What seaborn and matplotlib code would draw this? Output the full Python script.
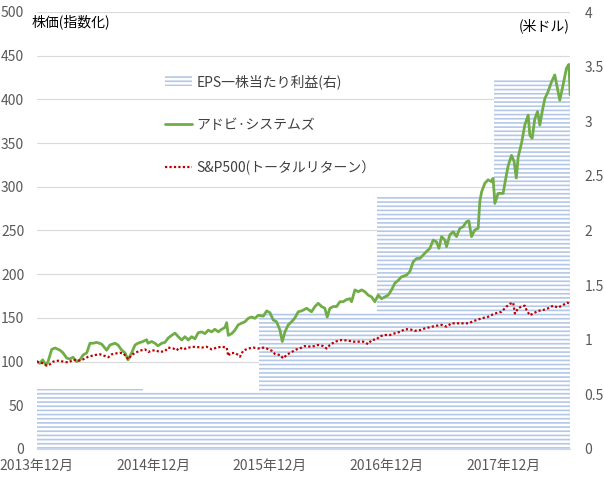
import numpy as np
import pandas as pd
import matplotlib
matplotlib.use("Agg")
import matplotlib.pyplot as plt
import seaborn as sns

# time axis: years elapsed since 2013-12-31
adobe_t = [0.000, 0.028, 0.051, 0.080, 0.097, 0.129, 0.157, 0.200, 0.225, 0.257,
           0.285, 0.311, 0.343, 0.371, 0.397, 0.429, 0.457, 0.483, 0.514, 0.557,
           0.600, 0.628, 0.671, 0.697, 0.729, 0.757, 0.783, 0.814, 0.843, 0.868,
           0.911, 0.943, 0.954, 0.986, 1.014, 1.040, 1.072, 1.100, 1.128, 1.157,
           1.186, 1.214, 1.243, 1.271, 1.300, 1.329, 1.357, 1.385, 1.414, 1.443,
           1.471, 1.500, 1.528, 1.557, 1.586, 1.614, 1.629, 1.643, 1.672, 1.700,
           1.728, 1.757, 1.786, 1.814, 1.843, 1.871, 1.900, 1.943, 1.972, 2.000,
           2.028, 2.057, 2.086, 2.106, 2.129, 2.157, 2.186, 2.214, 2.243, 2.272,
           2.315, 2.357, 2.386, 2.414, 2.443, 2.471, 2.491, 2.514, 2.543, 2.572,
           2.600, 2.628, 2.658, 2.686, 2.700, 2.729, 2.757, 2.786, 2.814, 2.843,
           2.872, 2.900, 2.928, 2.958, 2.986, 3.014, 3.043, 3.071, 3.100, 3.129,
           3.172, 3.200, 3.228, 3.258, 3.286, 3.314, 3.343, 3.372, 3.400, 3.429,
           3.449, 3.472, 3.500, 3.515, 3.543, 3.572, 3.600, 3.629, 3.657, 3.686,
           3.706, 3.729, 3.757, 3.786, 3.800, 3.815, 3.843, 3.871, 3.900, 3.914,
           3.929, 3.957, 4.000, 4.015, 4.043, 4.072, 4.094, 4.113, 4.129, 4.158,
           4.186, 4.215, 4.229, 4.249, 4.272, 4.295, 4.315, 4.335, 4.358, 4.386,
           4.415, 4.443, 4.466, 4.486, 4.514, 4.543, 4.564, 4.575]
adobe_idx = [100, 98, 102, 96, 100, 114, 115.6, 113, 110, 104,
             103, 105, 100, 102, 107.5, 110, 121, 121, 122, 120,
             113, 119, 121, 119, 113, 110, 102, 110, 119, 121,
             123, 125, 121, 123, 121, 118, 121, 122, 127, 130,
             132.6, 128.5, 124.7, 128.5, 124.7, 128.5, 126, 133, 134, 132,
             136, 134, 137, 134, 137, 139, 144.5, 130, 132, 136,
             142, 144, 145.6, 149.5, 151, 149.5, 153, 152, 158, 156,
             147.6, 145.6, 136, 123, 134, 142, 145.6, 150, 157, 158,
             161, 157, 163, 166.7, 163, 161, 151, 161, 163, 163,
             168.5, 168.5, 171, 172, 168.5, 182, 180, 182, 180, 176,
             174, 168.5, 176, 172, 174, 176, 182, 189.6, 193, 197,
             199, 203, 214, 218, 218, 222, 226, 229.6, 239, 237,
             229.6, 243, 239, 231.5, 245, 248.6, 243, 252.5, 254.4, 260,
             261, 243, 250.6, 252.5, 283, 294, 304, 308, 306, 309.7,
             281, 292.5, 292.5, 304, 324, 336, 329, 310, 334, 350,
             370.7, 382, 359, 355.5, 378, 386, 370.7, 386, 401, 409,
             420, 428, 412.6, 399, 416.5, 435.6, 440, 405]

sp_t = [0.000, 0.057, 0.086, 0.114, 0.142, 0.185, 0.228, 0.271, 0.314, 0.357,
        0.399, 0.442, 0.500, 0.543, 0.585, 0.614, 0.643, 0.686, 0.714, 0.742,
        0.772, 0.785, 0.814, 0.843, 0.886, 0.928, 0.957, 0.986, 1.014, 1.057,
        1.100, 1.128, 1.171, 1.200, 1.228, 1.257, 1.300, 1.357, 1.414, 1.457,
        1.500, 1.543, 1.586, 1.629, 1.643, 1.657, 1.700, 1.728, 1.743, 1.771,
        1.814, 1.857, 1.900, 1.943, 1.972, 2.015, 2.043, 2.086, 2.114, 2.143,
        2.186, 2.229, 2.272, 2.300, 2.357, 2.414, 2.457, 2.486, 2.514, 2.557,
        2.615, 2.671, 2.714, 2.757, 2.800, 2.843, 2.872, 2.915, 2.943, 2.986,
        3.029, 3.071, 3.114, 3.157, 3.200, 3.243, 3.286, 3.329, 3.415, 3.472,
        3.515, 3.558, 3.614, 3.657, 3.700, 3.757, 3.815, 3.871, 3.929, 3.986,
        4.029, 4.058, 4.086, 4.101, 4.129, 4.158, 4.186, 4.201, 4.229, 4.257,
        4.300, 4.343, 4.386, 4.429, 4.471, 4.514, 4.552, 4.575]
sp_idx = [100, 98, 95.4, 97, 100, 101, 100, 99, 102, 101,
          102.6, 105.6, 107.5, 108.3, 106.4, 105, 108.3, 109.5, 110, 109.5,
          105, 102.6, 107.5, 110, 112.5, 114, 111, 112.5, 113, 111,
          112, 116, 115, 113, 116, 114, 116, 117, 116, 117,
          114, 116, 117, 116, 106.4, 109.5, 110, 107.5, 105.6, 112.5,
          115, 116, 115, 116, 115, 112.5, 108.7, 107.5, 103.7, 107.5,
          111, 114, 116, 117.8, 117, 119, 117.8, 115, 119, 122.8,
          124.7, 124, 122.8, 122.8, 122.8, 120, 124.7, 125.5, 129, 130.4,
          130.4, 132.4, 134, 137, 137, 135.3, 136, 138, 140.7, 142,
          140, 143.8, 143.8, 143.8, 143.8, 146.8, 149.5, 151.3, 155, 157,
          163, 166, 167.5, 155, 161, 163, 164, 159, 153, 155,
          158, 159, 161, 164, 161.7, 164.8, 167.4, 165.6]

# EPS (US$), step changes at fiscal year ends
eps_dates = ["2013-12-31", "2014-11-28", "2015-11-27", "2016-12-02", "2017-12-01", "2018-07-30"]
eps_vals = [0.55, 0.52, 1.25, 2.31, 3.38, 3.38]

tick_years = [2013, 2014, 2015, 2016, 2017]
left_ticks = [0, 50, 100, 150, 200, 250, 300, 350, 400, 450, 500]
right_ticks = [0, 0.5, 1, 1.5, 2, 2.5, 3, 3.5, 4]
right_labels = ["0", "0.5", "1", "1.5", "2", "2.5", "3", "3.5", "4"]

sns.set_theme(style="white")
plt.rcParams["font.family"] = ["Noto Sans CJK JP", "DejaVu Sans"]
plt.rcParams["hatch.linewidth"] = 1.2

start = pd.Timestamp("2013-12-31")
adobe = pd.DataFrame({"date": start + pd.to_timedelta(np.array(adobe_t) * 365.25, unit="D"),
                      "idx": adobe_idx})
sp = pd.DataFrame({"date": start + pd.to_timedelta(np.array(sp_t) * 365.25, unit="D"),
                   "idx": sp_idx})
eps = pd.DataFrame({"date": pd.to_datetime(eps_dates), "eps": eps_vals})

fig = plt.figure(figsize=(6.04, 4.8), dpi=100)
ax = fig.add_axes([0.0608, 0.0646, 0.8837, 0.9104])
ax2 = ax.twinx()
ax3 = ax.twinx()

grey = "#595959"

# base axis: gridlines + left ticks + date ticks
ax.set_ylim(0, 500)
ax.set_yticks(left_ticks)
ax.grid(axis="y", color="#d9d9d9", linewidth=0.8)
ax.set_xticks([pd.Timestamp(f"{y}-12-31") for y in tick_years])
ax.set_xticklabels([f"{y}年12月" for y in tick_years])
ax.tick_params(axis="x", length=4, color="#d9d9d9", labelcolor=grey, labelsize=10, pad=3)
ax.tick_params(axis="y", length=0, labelcolor=grey, labelsize=10, pad=9)
for s in ax.spines.values():
    s.set_visible(False)

# EPS steps on right axis
eps_poly = ax2.fill_between(eps["date"], eps["eps"], step="post", facecolor="white",
                            edgecolor="#b4c7e7", hatch="----", linewidth=0,
                            label="EPS一株当たり利益(右)")
ax2.set_ylim(0, 4)
ax2.set_yticks(right_ticks)
ax2.set_yticklabels(right_labels)
ax2.tick_params(axis="y", length=0, labelcolor=grey, labelsize=10, pad=10)
for s in ax2.spines.values():
    s.set_visible(False)

# index lines on top
sns.lineplot(data=adobe, x="date", y="idx", ax=ax3, color="#70ad47", linewidth=2.0,
             estimator=None, label="アドビ·システムズ")
sns.lineplot(data=sp, x="date", y="idx", ax=ax3, color="#c00000", linewidth=1.6,
             linestyle=(0, (1, 1)), estimator=None, label="S&P500(トータルリターン）")
ax3.set_ylim(0, 500)
ax3.set_yticks([])
ax3.set_ylabel("")
ax3.set_xlabel("")
for name, s in ax3.spines.items():
    s.set_visible(name == "bottom")
ax3.spines["bottom"].set_color("#d9d9d9")
ax3.spines["bottom"].set_linewidth(0.8)

ax.set_xlim(start, pd.Timestamp("2018-07-30"))

h, l = ax3.get_legend_handles_labels()
ax3.legend([eps_poly] + h, ["EPS一株当たり利益(右)"] + l, loc="upper left",
           bbox_to_anchor=(0.216, 0.886), frameon=False, fontsize=10,
           labelspacing=2.05, handlelength=2.0, handletextpad=0.3, labelcolor="#404040")

fig.text(32 / 604, 1 - 22 / 480, "株価(指数化)", fontsize=10, color="black", va="center")
fig.text(570 / 604, 1 - 26 / 480, "(米ドル)", fontsize=10, color="black", va="center", ha="right")

fig.savefig("out.png", dpi=100)
